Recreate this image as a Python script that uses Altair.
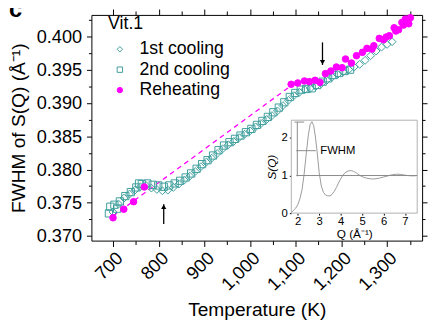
import altair as alt
import pandas as pd

# ---------------- data ----------------
series_names = ["1st cooling", "2nd cooling", "Reheating"]

cool1_T = [700, 712, 724, 736, 748, 760, 772, 784, 796, 808, 820, 832, 844, 856, 868, 880,
           892, 904, 916, 928, 940, 952, 964, 976, 988, 1000, 1012, 1024, 1036, 1048, 1060,
           1072, 1084, 1096, 1108, 1120, 1132, 1144, 1156, 1168, 1180, 1192, 1204, 1216,
           1228, 1240, 1252, 1264, 1276, 1288, 1300, 1311]
cool1_Y = [0.3736, 0.3748, 0.3757, 0.3763, 0.3769, 0.3774, 0.3776, 0.3772, 0.3770, 0.3768,
           0.3769, 0.3773, 0.3778, 0.3784, 0.3790, 0.3797, 0.3804, 0.3811, 0.3817, 0.3824,
           0.3831, 0.3837, 0.3842, 0.3848, 0.3853, 0.3858, 0.3864, 0.3869, 0.3875, 0.3881,
           0.3888, 0.3896, 0.3904, 0.3911, 0.3916, 0.3920, 0.3922, 0.3925, 0.3929, 0.3934,
           0.3939, 0.3943, 0.3947, 0.3950, 0.3954, 0.3958, 0.3964, 0.3971, 0.3978, 0.3984,
           0.3988, 0.3992]

cool2_T = [691, 694, 703, 709, 715, 727, 739, 751, 757, 763, 775, 787, 799, 811, 823, 835,
           847, 859, 871, 883, 895, 907, 919, 931, 943, 955, 967, 979, 991, 1003, 1015, 1027,
           1039, 1051, 1063, 1075, 1087, 1099, 1111, 1123, 1135, 1147, 1159, 1171, 1183,
           1195, 1207, 1219]
cool2_Y = [0.3734, 0.3744, 0.3747, 0.3741, 0.3752, 0.3760, 0.3766, 0.3773, 0.3779, 0.3778,
           0.3779, 0.3777, 0.3776, 0.3774, 0.3776, 0.3779, 0.3783, 0.3788, 0.3794, 0.3801,
           0.3808, 0.3814, 0.3821, 0.3829, 0.3836, 0.3841, 0.3846, 0.3851, 0.3856, 0.3861,
           0.3867, 0.3873, 0.3879, 0.3886, 0.3893, 0.3901, 0.3909, 0.3915, 0.3920, 0.3921,
           0.3922, 0.3927, 0.3932, 0.3937, 0.3942, 0.3945, 0.3948, 0.3950]

reheat_T = [700, 723.6, 745, 768.7, 1090, 1104.5, 1119, 1130, 1142.5, 1153, 1165, 1177,
            1189, 1201.5, 1209, 1222, 1233, 1246, 1256, 1267, 1271, 1283, 1292, 1298, 1305,
            1315.5, 1319, 1325, 1332.5, 1336, 1340, 1347.5, 1351]
reheat_Y = [0.37274, 0.37403, 0.37516, 0.37737, 0.3928, 0.3930, 0.3933, 0.3932, 0.3934,
            0.3931, 0.3944, 0.3948, 0.3954, 0.3953, 0.3966, 0.3960, 0.3971, 0.3976, 0.3982,
            0.3981, 0.3986, 0.3997, 0.3995, 0.3999, 0.4001, 0.4013, 0.4008, 0.4010, 0.4021,
            0.4017, 0.4026, 0.4019, 0.4028]

dash_T = [700, 1090]
dash_Y = [0.3730, 0.3926]

arrow_T = [811, 1158.6]
arrow_tail = [0.37181, 0.39910]
arrow_tip = [0.37476, 0.39571]
arrow_head = [0.37440, 0.39610]
arrow_dir = ["up", "down"]

x_major = [700, 800, 900, 1000, 1100, 1200, 1300]
x_minor = [750, 850, 950, 1050, 1150, 1250, 1350]
y_major = [0.370, 0.375, 0.380, 0.385, 0.390, 0.395, 0.400]
y_minor = [0.3725, 0.3775, 0.3825, 0.3875, 0.3925, 0.3975, 0.4025]
X_DOM = [652.7, 1376.7]
Y_DOM = [0.369307, 0.40323]

# inset S(Q)
inset_Q = [1.72, 1.8, 1.9, 2.0, 2.1, 2.2, 2.3, 2.4, 2.5, 2.58, 2.66, 2.74, 2.82, 2.9, 3.0,
           3.1, 3.2, 3.3, 3.4, 3.5, 3.6, 3.7, 3.8, 3.9, 4.0, 4.1, 4.2, 4.3, 4.4, 4.5, 4.6,
           4.7, 4.8, 4.9, 5.0, 5.2, 5.4, 5.6, 5.8, 6.0, 6.2, 6.4, 6.6, 6.8, 7.0, 7.2, 7.4, 7.57]
inset_S = [0.03, 0.07, 0.13, 0.22, 0.38, 0.62, 1.05, 1.6, 2.1, 2.36, 2.43, 2.33, 2.05, 1.65,
           1.08, 0.72, 0.55, 0.48, 0.46, 0.46, 0.5, 0.58, 0.68, 0.8, 0.91, 1.0, 1.07, 1.11,
           1.13, 1.13, 1.11, 1.08, 1.04, 1.0, 0.97, 0.93, 0.91, 0.91, 0.93, 0.96, 0.99, 1.02,
           1.035, 1.03, 1.01, 0.995, 0.99, 1.0]
Q_DOM = [1.7, 7.57]
S_DOM = [0, 2.47]
inset_x_ticks = [2, 3, 4, 5, 6, 7]
inset_y_ticks = [0, 1, 2]
# annotation segments in the inset: (q0, q1, s0, s1)
ann_q0 = [1.93, 1.98, 1.85, 1.93]
ann_q1 = [7.57, 1.98, 2.30, 2.84]
ann_s0 = [1.0, 0.98, 2.42, 1.66]
ann_s1 = [1.0, 2.42, 2.42, 1.66]
fwhm_label = ["FWHM"]
fwhm_pos = [3.05, 1.66]

# ---------------- tables ----------------
pts = pd.concat([
    pd.DataFrame({"T": cool1_T, "Y": cool1_Y, "series": series_names[0]}),
    pd.DataFrame({"T": cool2_T, "Y": cool2_Y, "series": series_names[1]}),
    pd.DataFrame({"T": reheat_T, "Y": reheat_Y, "series": series_names[2]}),
], ignore_index=True)
dash_df = pd.DataFrame({"T": dash_T, "Y": dash_Y})
arrow_df = pd.DataFrame({"T": arrow_T, "tail": arrow_tail, "tip": arrow_tip,
                         "head": arrow_head, "dir": arrow_dir})
curve_df = pd.DataFrame({"Q": inset_Q, "S": inset_S})
box_df = pd.DataFrame({"q0": [Q_DOM[0]], "q1": [Q_DOM[1]], "s0": [S_DOM[0]], "s1": [S_DOM[1]]})
ann_df = pd.DataFrame({"q0": ann_q0, "q1": ann_q1, "s0": ann_s0, "s1": ann_s1})
txt_df = pd.DataFrame({"Q": [fwhm_pos[0]], "S": [fwhm_pos[1]], "t": fwhm_label})
c_df = pd.DataFrame({"t": ["c"]})

FONT = "Liberation Sans"
TEAL = "#3e9e9c"
MAG = "#ff00ff"

xs = alt.Scale(domain=X_DOM, nice=False, zero=False)
ys = alt.Scale(domain=Y_DOM, nice=False, zero=False)
qs = alt.Scale(domain=Q_DOM, range=[203.7, 332], nice=False, zero=False)
ss = alt.Scale(domain=S_DOM, range=[202, 107.3], nice=False, zero=False)


def minor_axis(orient, values, size):
    return alt.Axis(orient=orient, values=values, labels=False, tickSize=size,
                    domain=False, title=None, grid=False)


def frame_axis(orient, values, size):
    return alt.Axis(orient=orient, values=values, labels=False, tickSize=size,
                    domain=True, title=None, grid=False)


leg = alt.Legend(title="Vit.1", orient="none", legendX=17, legendY=0, symbolOffset=3)

box = alt.Chart(box_df).mark_rect(fill="white", stroke="#b0b0b0", strokeWidth=1).encode(
    x=alt.X("q0:Q", scale=qs, axis=None), x2="q1:Q",
    y=alt.Y("s0:Q", scale=ss, axis=None), y2="s1:Q")

curve = alt.Chart(curve_df).mark_line(color="#9a9a9a", strokeWidth=1).encode(
    x=alt.X("Q:Q", scale=qs, axis=alt.Axis(orient="bottom", offset=-28, values=inset_x_ticks,
            labelFontSize=11.5, tickSize=2, labelPadding=1, domain=False, grid=False,
            title="Q (Å⁻¹)", titleFontSize=12, titleFontWeight="normal", titlePadding=1)),
    y=alt.Y("S:Q", scale=ss, axis=alt.Axis(orient="left", offset=-203.7, values=inset_y_ticks,
            labelFontSize=11.5, tickSize=2, labelPadding=2, domain=False, grid=False,
            title="S(Q)", titleFontSize=12, titleFontWeight="normal",
            titleFontStyle="italic", titlePadding=3)))

ann = alt.Chart(ann_df).mark_rule(color="#8a8a8a", strokeWidth=1).encode(
    x=alt.X("q0:Q", scale=qs, axis=None), x2="q1:Q",
    y=alt.Y("s0:Q", scale=ss, axis=None), y2="s1:Q")

ftxt = alt.Chart(txt_df).mark_text(align="left", baseline="middle", fontSize=11.5,
                                   font=FONT, color="black").encode(
    x=alt.X("Q:Q", scale=qs, axis=None), y=alt.Y("S:Q", scale=ss, axis=None), text="t:N")

dash = alt.Chart(dash_df).mark_line(color=MAG, strokeDash=[5, 4], strokeWidth=1.3).encode(
    x=alt.X("T:Q", scale=xs, axis=minor_axis("bottom", x_minor, 4)),
    y=alt.Y("Y:Q", scale=ys, axis=minor_axis("left", y_minor, 3)))

points = alt.Chart(pts).mark_point(opacity=1, fillOpacity=1, strokeWidth=1).encode(
    x=alt.X("T:Q", scale=xs, axis=alt.Axis(orient="bottom", values=x_major, format=",.0f",
            labelAngle=-45, labelFontSize=18.5, tickSize=6, labelPadding=2, domain=True,
            labelOverlap=False, grid=False, title="Temperature (K)", titleFontSize=19.5,
            titleFontWeight="normal", titlePadding=8)),
    y=alt.Y("Y:Q", scale=ys, axis=alt.Axis(orient="left", values=y_major, format=".3f",
            labelFontSize=18.5, tickSize=5, labelPadding=5, domain=True, grid=False,
            labelOverlap=False, title="FWHM of S(Q) (Å⁻¹)", titleFontSize=19.5,
            titleFontWeight="normal", titlePadding=8)),
    shape=alt.Shape("series:N", scale=alt.Scale(domain=series_names,
                    range=["diamond", "square", "circle"]), legend=leg),
    fill=alt.Fill("series:N", scale=alt.Scale(domain=series_names,
                  range=["transparent", "transparent", MAG]), legend=leg),
    stroke=alt.Stroke("series:N", scale=alt.Scale(domain=series_names,
                      range=[TEAL, TEAL, MAG]), legend=leg),
    # size scale takes its domain from the data so that it is not merged with the legend
    size=alt.Size("series:N", scale=alt.Scale(range=[64, 45, 62]), legend=None),
)

arrows = alt.Chart(arrow_df).mark_rule(color="black", strokeWidth=1.3).encode(
    x=alt.X("T:Q", scale=xs, axis=frame_axis("top", x_major, 6)),
    y=alt.Y("tail:Q", scale=ys, axis=frame_axis("right", y_major, 5)),
    y2="tip:Q")

heads_up = alt.Chart(arrow_df).transform_filter(alt.datum.dir == "up").mark_point(
    shape="triangle-up", filled=True, color="black", opacity=1, size=28).encode(
    x=alt.X("T:Q", scale=xs, axis=minor_axis("top", x_minor, 4)),
    y=alt.Y("head:Q", scale=ys, axis=minor_axis("right", y_minor, 3)))

heads_down = alt.Chart(arrow_df).transform_filter(alt.datum.dir == "down").mark_point(
    shape="triangle-down", filled=True, color="black", opacity=1, size=28).encode(
    x=alt.X("T:Q", scale=xs, axis=None),
    y=alt.Y("head:Q", scale=ys, axis=None))

clabel = alt.Chart(c_df).mark_text(align="left", baseline="alphabetic", fontSize=24,
                                   fontWeight="bold", font=FONT, color="black").encode(
    x=alt.value(-84), y=alt.value(2), text="t:N")

chart = alt.layer(box, curve, ann, ftxt, dash, points, arrows, heads_up, heads_down,
                  clabel).resolve_scale(
    x="independent", y="independent"
).properties(
    width=337, height=230,
    autosize=alt.AutoSizeParams(type="none"),
    padding={"left": 85, "top": 4, "right": 6, "bottom": 86},
).configure_view(stroke=None).configure_axis(
    labelFont=FONT, titleFont=FONT, labelColor="black", titleColor="black",
    tickColor="black", domainColor="black", tickWidth=1, domainWidth=1
).configure_legend(
    titleFontSize=18, titleFontWeight="normal", titleFont=FONT, titleColor="black",
    labelFontSize=18, labelFont=FONT, labelColor="black", symbolSize=30,
    symbolStrokeWidth=1, rowPadding=2.8, titlePadding=8, labelOffset=11, padding=0
).configure_text(font=FONT)

chart.save("out.html", embed_options={"renderer": "svg", "actions": False})
